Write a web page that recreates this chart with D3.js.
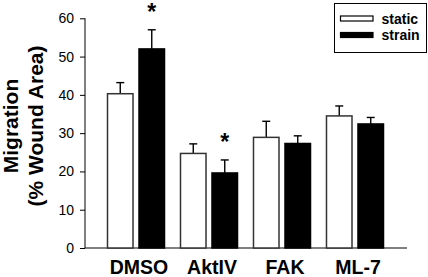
<!DOCTYPE html>
<html>
<head>
<meta charset="utf-8">
<script src="https://cdn.jsdelivr.net/npm/d3@7"></script>
<style>
  body { margin: 0; background: #fff; }
  svg { display: block; font-family: "Liberation Sans", Arial, sans-serif; }
</style>
</head>
<body>
<div id="chart"></div>
<script>
// Data
const categories = ["DMSO", "AktIV", "FAK", "ML-7"];
const series = ["static", "strain"];
const staticMeans = [40.3, 24.7, 28.9, 34.5];
const staticErr = [2.9, 2.5, 4.2, 2.6];
const strainMeans = [52.0, 19.6, 27.3, 32.4];
const strainErr = [5.0, 3.4, 2.0, 1.7];
const significant = [true, true, false, false]; // asterisk over strain bar
const yTicks = [0, 10, 20, 30, 40, 50, 60];

const width = 428, height = 277;

const svg = d3.select("#chart").append("svg")
    .attr("width", width)
    .attr("height", height);

// scales
const y = d3.scaleLinear().domain([0, 60]).range([248, 18.3]);
const x0 = d3.scaleBand().domain(categories).range([107.5, 383.5]).paddingInner(0.219);
const x1 = d3.scaleBand().domain(series).range([0, x0.bandwidth()]).paddingInner(0.19);

const rows = [];
categories.forEach((c, i) => {
    rows.push({cat: c, s: "static", v: staticMeans[i], e: staticErr[i], sig: false});
    rows.push({cat: c, s: "strain", v: strainMeans[i], e: strainErr[i], sig: significant[i]});
});

// y axis
const yAxis = svg.append("g")
    .attr("transform", "translate(85,0)")
    .call(d3.axisLeft(y).tickValues(yTicks).tickSize(5).tickPadding(6));
yAxis.select(".domain").attr("stroke", "#000").attr("stroke-width", 1).attr("d", `M0,${y(60)}V${y(0)}`);
yAxis.selectAll(".tick line").attr("stroke", "#000");
yAxis.selectAll(".tick text")
    .attr("font-size", 14)
    .attr("fill", "#000")
    .style("font-family", "'Liberation Sans', Arial, sans-serif");

// x axis line
svg.append("line")
    .attr("x1", 85).attr("x2", 407)
    .attr("y1", y(0)).attr("y2", y(0))
    .attr("stroke", "#000").attr("stroke-width", 1);

// error bars (upward only)
const errG = svg.append("g");
rows.forEach(d => {
    const cx = x0(d.cat) + x1(d.s) + x1.bandwidth() / 2;
    errG.append("line")
        .attr("x1", cx).attr("x2", cx)
        .attr("y1", y(d.v)).attr("y2", y(d.v + d.e))
        .attr("stroke", "#000").attr("stroke-width", 1.4);
    errG.append("line")
        .attr("x1", cx - 4).attr("x2", cx + 4)
        .attr("y1", y(d.v + d.e)).attr("y2", y(d.v + d.e))
        .attr("stroke", "#000").attr("stroke-width", 1.4);
});

// bars
svg.append("g").selectAll("rect")
    .data(rows)
    .join("rect")
    .attr("x", d => x0(d.cat) + x1(d.s))
    .attr("y", d => y(d.v))
    .attr("width", x1.bandwidth())
    .attr("height", d => y(0) - y(d.v))
    .attr("fill", d => d.s === "static" ? "#fff" : "#000")
    .attr("stroke", d => d.s === "static" ? "#333" : "#000")
    .attr("stroke-width", 1.5);

// significance asterisks
svg.append("g").selectAll("text")
    .data(rows.filter(d => d.sig))
    .join("text")
    .attr("x", d => x0(d.cat) + x1(d.s) + x1.bandwidth() / 2)
    .attr("y", d => y(d.v + d.e) - 10)
    .attr("text-anchor", "middle")
    .attr("font-size", 23)
    .attr("font-weight", "bold")
    .text("*");

// category labels
svg.append("g").selectAll("text")
    .data(categories)
    .join("text")
    .attr("x", d => x0(d) + x0.bandwidth() / 2 + 3)
    .attr("y", 274)
    .attr("text-anchor", "middle")
    .attr("font-size", 19.5)
    .attr("font-weight", "bold")
    .text(d => d);

// y label, two lines
const yl = svg.append("text")
    .attr("transform", "translate(0,126) rotate(-90)")
    .attr("text-anchor", "middle")
    .attr("font-size", 21)
    .attr("font-weight", "bold");
yl.append("tspan").attr("x", 0).attr("y", 18).text("Migration");
yl.append("tspan").attr("x", 0).attr("y", 43).text("(% Wound Area)");

// legend
const lg = svg.append("g");
lg.append("rect")
    .attr("x", 334.5).attr("y", 3.5)
    .attr("width", 92).attr("height", 49)
    .attr("fill", "#fff").attr("stroke", "#000").attr("stroke-width", 1);
series.forEach((s, i) => {
    lg.append("rect")
        .attr("x", 340.5).attr("y", 16 + i * 16.5)
        .attr("width", 32.5).attr("height", 5)
        .attr("fill", s === "static" ? "#fff" : "#000")
        .attr("stroke", "#000").attr("stroke-width", 1.2);
    lg.append("text")
        .attr("x", 381.5).attr("y", 24 + i * 16)
        .attr("font-size", 14)
        .attr("font-weight", "bold")
        .text(s);
});
</script>
</body>
</html>
